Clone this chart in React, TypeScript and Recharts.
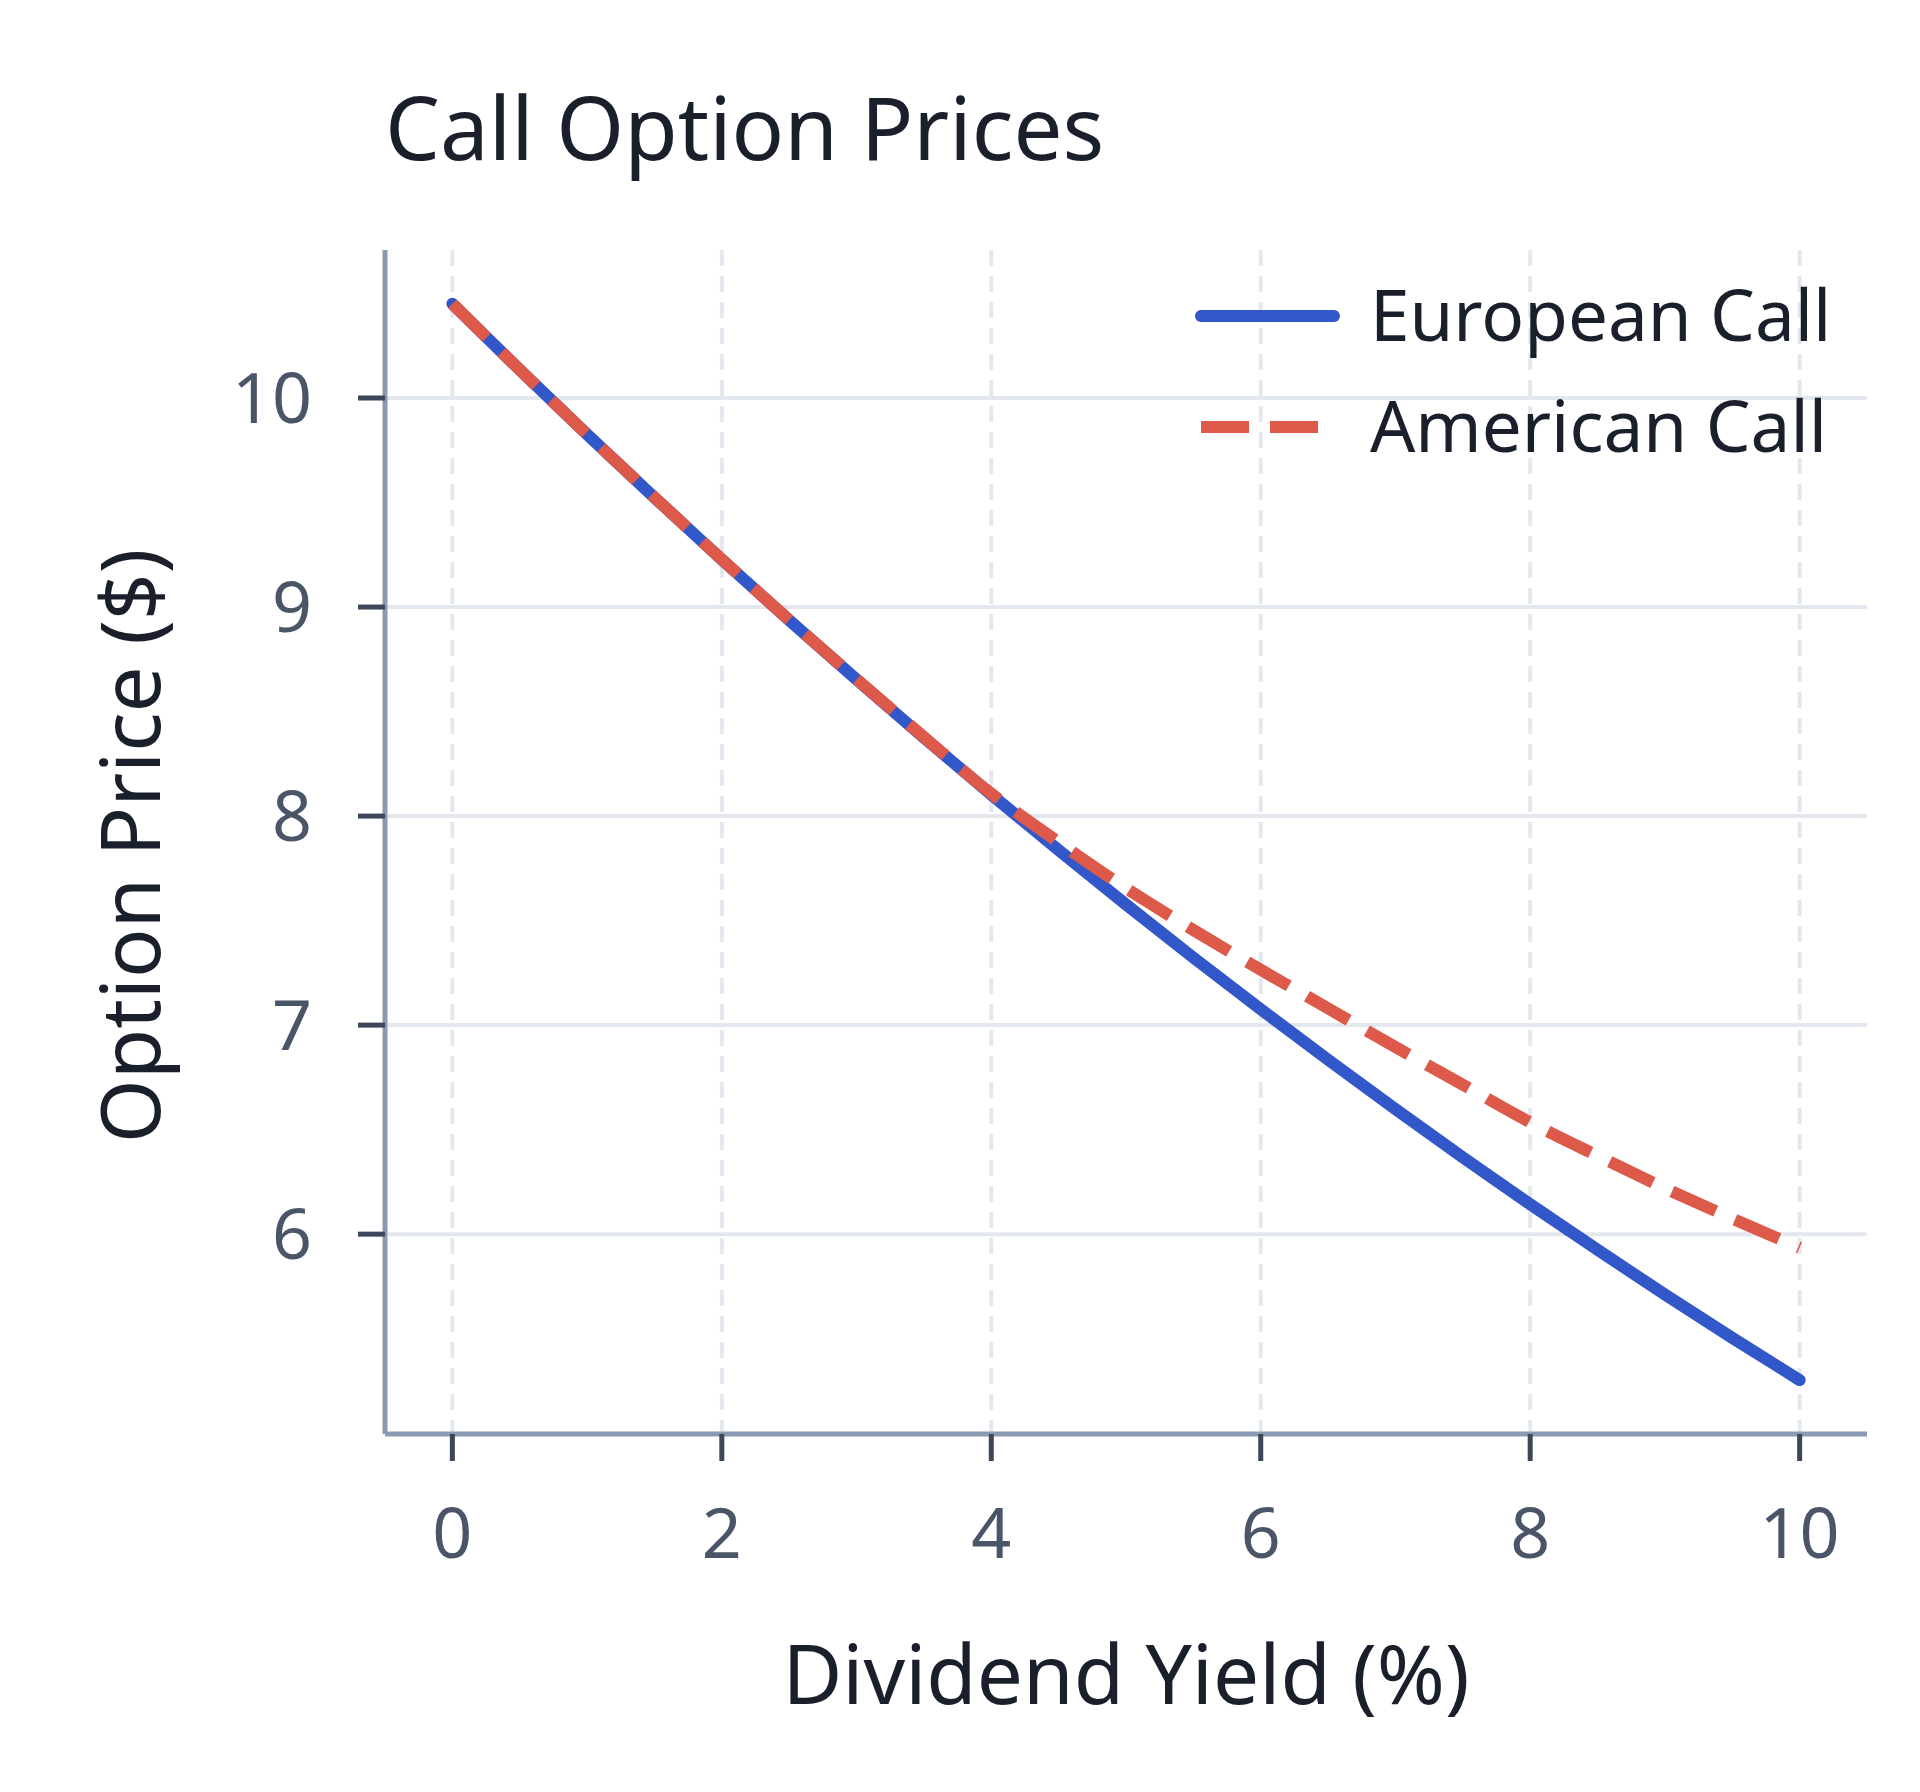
import React from "react";
import {
  LineChart,
  Line,
  CartesianGrid,
  XAxis,
  YAxis,
  Legend,
} from "recharts";

// dividend yield in %, prices in $
const dividendYield = [0, 0.5, 1, 1.5, 2, 2.5, 3, 3.5, 4, 4.5, 5, 5.5, 6, 6.5, 7, 7.5, 8, 8.5, 9, 9.5, 10];
const europeanCall = [10.451, 10.135, 9.826, 9.524, 9.227, 8.937, 8.653, 8.375, 8.103, 7.837, 7.577, 7.323, 7.076, 6.834, 6.598, 6.367, 6.143, 5.925, 5.711, 5.504, 5.302];
const americanCall = [10.451, 10.135, 9.826, 9.525, 9.228, 8.938, 8.655, 8.378, 8.108, 7.875, 7.655, 7.455, 7.265, 7.08, 6.895, 6.715, 6.535, 6.375, 6.22, 6.075, 5.935];

const xTicks = [0, 2, 4, 6, 8, 10];
const yTicks = [6, 7, 8, 9, 10];

const seriesNames = ["European Call", "American Call"];

const data = dividendYield.map((q, i) => ({
  q,
  european: europeanCall[i],
  american: americanCall[i],
}));

const FONT = "'Noto Sans', 'Open Sans', sans-serif";
const BLUE = "#3257c9";
const RED = "#dd5a4a";
const GRID = "#e3e8ef";
const SPINE = "#8a9ab2";
const TICK = "#3d4757";
const TICK_TEXT = "#4a5568";
const DARK = "#1a1f2c";

const legendItems = [
  { name: seriesNames[0], color: BLUE, dash: undefined, cap: "round" },
  { name: seriesNames[1], color: RED, dash: "48 21", cap: "butt" },
];

function LegendBox() {
  return (
    <svg width={720} height={220} style={{ overflow: "visible" }}>
      {legendItems.map((item, i) => {
        const y = 56 + i * 111;
        return (
          <g key={item.name}>
            <line
              x1={11}
              x2={144}
              y1={y}
              y2={y}
              stroke={item.color}
              strokeWidth={12}
              strokeDasharray={item.dash}
              strokeLinecap={item.cap as any}
            />
            <text
              x={180}
              y={y + 25}
              fontSize={71}
              fontFamily={FONT}
              fill={DARK}
            >
              {item.name}
            </text>
          </g>
        );
      })}
    </svg>
  );
}

function YLabel(props: any) {
  const vb = props.viewBox || { x: 0, y: 250, width: 385, height: 1184 };
  const cx = 160;
  const cy = vb.y + vb.height / 2 + 4;
  return (
    <text
      x={cx}
      y={cy}
      transform={`rotate(-90, ${cx}, ${cy})`}
      textAnchor="middle"
      fontSize={82}
      fontFamily={FONT}
      fill={DARK}
    >
      Option Price ($)
    </text>
  );
}

export default function App() {
  return (
    <div
      style={{
        position: "absolute",
        left: 0,
        top: 0,
        width: 1920,
        height: 1792,
        background: "#ffffff",
        fontFamily: FONT,
      }}
    >
      <svg
        width={1920}
        height={200}
        style={{ position: "absolute", left: 0, top: 0 }}
      >
        <text x={385} y={160} fontSize={87} fontFamily={FONT} fill={DARK}>
          Call Option Prices
        </text>
      </svg>
      <LineChart
        width={1920}
        height={1792}
        data={data}
        margin={{ top: 250, right: 53, left: 0, bottom: 0 }}
        style={{ position: "absolute", left: 0, top: 0 }}
      >
        <CartesianGrid
          vertical={false}
          horizontalValues={yTicks}
          stroke={GRID}
          strokeWidth={4}
        />
        <CartesianGrid
          horizontal={false}
          verticalValues={xTicks}
          stroke={GRID}
          strokeWidth={4}
          strokeDasharray="16 10"
        />
        <XAxis
          dataKey="q"
          type="number"
          domain={[-0.5, 10.5]}
          ticks={xTicks}
          height={358}
          axisLine={{ stroke: SPINE, strokeWidth: 5 }}
          tickLine={{ stroke: TICK, strokeWidth: 5 }}
          tickSize={27}
          tickMargin={47}
          tick={{ fill: TICK_TEXT, fontSize: 70, fontFamily: FONT }}
          label={{
            value: "Dividend Yield (%)",
            position: "insideBottom",
            offset: 88,
            fontSize: 82,
            fontFamily: FONT,
            fill: DARK,
          }}
        />
        <YAxis
          type="number"
          domain={[5.044, 10.708]}
          ticks={yTicks}
          width={385}
          axisLine={{ stroke: SPINE, strokeWidth: 5 }}
          tickLine={{ stroke: TICK, strokeWidth: 5 }}
          tickSize={27}
          tickMargin={46}
          tick={{ fill: TICK_TEXT, fontSize: 70, fontFamily: FONT }}
          label={(p: any) => <YLabel {...p} />}
        />
        <Line
          type="monotone"
          dataKey="european"
          name={seriesNames[0]}
          stroke={BLUE}
          strokeWidth={12}
          strokeLinecap="round"
          dot={false}
          activeDot={false}
          isAnimationActive={false}
        />
        <Line
          type="monotone"
          dataKey="american"
          name={seriesNames[1]}
          stroke={RED}
          strokeWidth={12}
          strokeDasharray="48 21"
          dot={false}
          activeDot={false}
          isAnimationActive={false}
        />
        <Legend
          layout="horizontal"
          verticalAlign="middle"
          align="center"
          content={() => <LegendBox />}
          wrapperStyle={{ left: 1190, top: 260, width: 720, height: 220 }}
        />
      </LineChart>
    </div>
  );
}
